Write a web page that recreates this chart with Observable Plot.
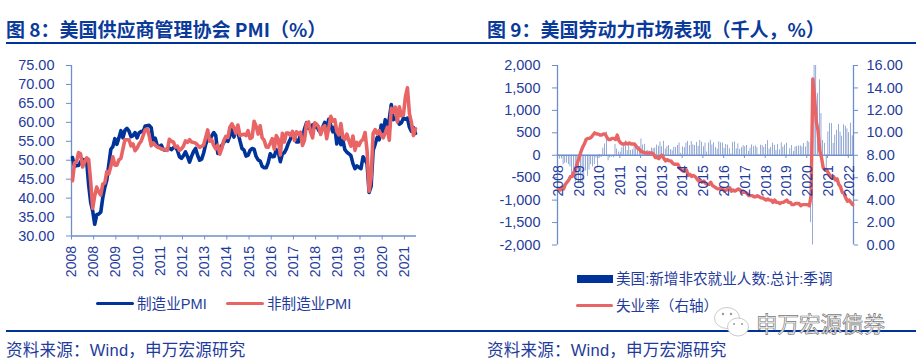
<!DOCTYPE html>
<html><head><meta charset="utf-8">
<script src="https://cdn.jsdelivr.net/npm/d3@7"></script>
<script src="https://cdn.jsdelivr.net/npm/@observablehq/plot@0.6"></script>
<style>
html,body{margin:0;padding:0;background:#fff}
#page{position:relative;width:916px;height:364px;overflow:hidden;font-family:"Liberation Sans","Noto Sans CJK SC",sans-serif;color:#1f3c9c}
#page svg.plot{position:absolute;left:0;top:0;background:transparent;overflow:visible}
.abs{position:absolute;white-space:nowrap}
.title{font-family:"Noto Sans CJK SC",sans-serif;font-weight:700;font-size:19px;color:#0a3a9a;line-height:22px}
.rule{position:absolute;background:#003399;height:2px}
.src{font-size:16.5px;line-height:20px;color:#1f3c9c;font-family:"Liberation Sans","Noto Sans CJK SC",sans-serif;letter-spacing:.25px}
.leg{font-size:14.6px;line-height:18px;color:#1f3c9c}
.sw{position:absolute;border-radius:2px}
[aria-label="y-axis tick"]{stroke:#6d8fc9}
.wm{font-family:"Noto Sans CJK SC",sans-serif;font-size:21.5px;color:#fff;-webkit-text-stroke:.7px #777}
</style></head><body>
<div id="page">
  <div class="abs title" style="left:6px;top:18px">图 8&#xFF1A;美国供应商管理协会 PMI&#xFF08;%&#xFF09;</div>
  <div class="abs title" style="left:487px;top:18px">图 9&#xFF1A;美国劳动力市场表现&#xFF08;千人&#xFF0C;%&#xFF09;</div>
  <div class="rule" style="left:6px;top:42px;width:910px"></div>

  <div class="sw" style="left:96px;top:302px;width:38px;height:3px;background:#003399"></div>
  <div class="abs leg" style="left:137px;top:295px">制造业PMI</div>
  <div class="sw" style="left:226px;top:302px;width:38px;height:3px;background:#e96464"></div>
  <div class="abs leg" style="left:267px;top:295px">非制造业PMI</div>

  <div style="position:absolute;left:577px;top:275px;width:36px;height:8px;background:#003399"></div>
  <div class="abs leg" style="left:616px;top:270px">美国:新增非农就业人数:总计:季调</div>
  <div class="sw" style="left:576px;top:304px;width:37px;height:3px;background:#e96464"></div>
  <div class="abs leg" style="left:616px;top:297px">失业率&#xFF08;右轴&#xFF09;</div>

  <div class="rule" style="left:6px;top:330px;width:910px"></div>
  <div class="abs src" style="left:6px;top:340px">资料来源&#xFF1A;Wind&#xFF0C;申万宏源研究</div>
  <div class="abs src" style="left:487px;top:340px">资料来源&#xFF1A;Wind&#xFF0C;申万宏源研究</div>

  <svg style="position:absolute;left:712px;top:305px" width="40" height="36" viewBox="0 0 40 36">
    <ellipse cx="15" cy="13" rx="12.5" ry="10.5" fill="#fff" stroke="#ccc"/>
    <ellipse cx="26" cy="22" rx="10.5" ry="9" fill="#fff" stroke="#ccc"/>
    <circle cx="11" cy="9" r="1.2" fill="#999"/><circle cx="19" cy="9" r="1.2" fill="#999"/>
    <circle cx="22" cy="19" r="1" fill="#999"/><circle cx="30" cy="19" r="1" fill="#999"/>
  </svg>
  <div class="abs wm" style="left:756px;top:307px">申万宏源债券</div>
</div>
<script>
const months = d3.range(171);
const pmiTickMonths = d3.range(0, 171, 11);
const pmiTickLabels = ["2008","2008","2009","2010","2011","2012","2013","2014","2015","2016","2017","2018","2019","2019","2020","2021"];
const pmiYTicks = [30,35,40,45,50,55,60,65,70,75];
const manufacturing = [
50.7,48.3,48.6,48.6,49.6,50.2,50.0,49.9,43.5,38.9,36.6,33.1,
35.6,35.8,36.3,40.1,42.8,44.8,48.9,52.9,53.6,55.7,54.2,55.9,
57.8,55.9,57.9,58.4,57.7,56.2,56.5,57.3,55.9,57.2,57.6,57.5,
59.0,59.1,59.2,58.6,55.0,55.8,53.8,53.6,54.0,52.8,52.7,53.0,
53.2,52.8,53.3,53.6,52.6,50.9,50.5,51.2,52.2,51.0,49.5,51.0,
52.3,53.1,51.3,50.0,50.3,51.9,54.2,55.6,55.4,56.4,57.3,56.5,
51.8,53.0,53.9,54.7,55.3,55.0,56.4,58.0,56.1,57.9,57.3,55.1,
53.1,52.7,51.1,51.3,52.6,53.1,52.9,51.0,50.1,49.8,48.4,48.0,
48.0,49.4,51.7,50.9,51.0,52.8,52.2,49.6,51.7,52.0,53.0,54.5,
55.6,57.0,56.6,54.8,54.8,56.7,56.0,58.3,59.9,58.4,58.2,59.3,
58.6,59.3,57.9,57.3,58.7,60.0,58.4,60.8,59.2,57.5,58.8,54.3,
56.6,54.1,55.3,52.8,52.1,51.7,51.2,49.1,47.8,48.5,48.1,47.8,
50.9,50.1,49.1,41.5,43.1,52.6,54.2,56.0,55.4,59.3,57.5,60.7,
58.7,60.8,64.7,60.7,61.2,60.6,59.5,59.9,61.1,60.8,61.1,58.7,
57.6,58.6,57.1];
const nonManufacturing = [
44.6,49.3,49.6,52.0,51.7,48.2,49.5,50.6,50.2,44.4,37.3,40.6,
42.9,41.6,40.8,43.7,44.0,47.0,46.4,48.4,50.9,48.7,48.7,50.1,
50.5,53.0,55.4,55.4,55.4,53.8,54.3,52.5,53.2,54.3,55.0,56.5,
58.0,58.3,56.5,53.8,54.6,54.0,53.5,53.3,53.0,52.9,52.8,52.6,
55.5,55.0,54.8,53.5,53.7,52.6,53.0,53.7,55.1,54.7,55.4,54.8,
54.7,54.5,54.0,53.4,53.7,54.0,56.0,58.0,55.0,55.4,53.9,53.0,
54.0,51.6,53.1,55.2,56.3,56.0,58.7,59.6,58.6,57.1,59.3,56.5,
56.7,56.9,56.5,57.8,55.7,56.0,60.3,59.0,56.9,59.1,55.9,55.3,
53.5,53.4,54.5,55.7,52.9,56.5,55.5,51.4,57.1,54.8,57.2,57.2,
56.5,57.6,55.2,57.5,56.9,57.4,53.9,55.3,59.8,60.1,57.4,55.9,
59.9,59.5,58.8,56.8,58.6,59.1,55.7,58.5,61.6,60.3,60.7,57.6,
56.7,59.7,56.1,55.5,56.9,55.1,53.7,56.4,52.6,54.7,53.9,55.0,
55.5,57.3,52.5,41.8,45.4,57.1,58.1,56.9,57.8,56.6,55.9,57.2,
58.7,55.3,63.7,62.7,64.0,60.1,64.1,61.7,61.9,66.7,69.1,62.3,
59.9,56.5,58.3];
const jobsTickMonths = d3.range(0, 171, 12);
const jobsTickLabels = ["2008","2009","2010","2011","2012","2013","2014","2015","2016","2017","2018","2019","2020","2021","2022"];
const jobsYTicks = [-2000,-1500,-1000,-500,0,500,1000,1500,2000];
const rateTicks = [0,2,4,6,8,10,12,14,16];
const payrolls = [
17,-86,-80,-214,-182,-172,-210,-259,-452,-474,-600,-560,
-620,-600,-640,-560,-351,-470,-329,-212,-258,-210,-62,-283,
18,-50,156,251,516,-122,-61,-42,-57,241,137,71,
70,168,212,322,102,217,106,122,221,183,164,196,
360,226,243,96,110,88,160,150,161,225,203,293,
190,311,135,192,218,125,99,178,172,217,274,45,
187,168,272,310,213,306,232,218,286,200,331,292,
190,271,72,275,332,228,277,173,136,298,276,270,
153,237,225,144,29,285,297,142,254,128,167,216,
191,217,88,160,230,191,210,170,18,225,216,175,
239,326,135,175,272,218,108,237,119,277,179,227,
269,1,147,216,85,182,194,207,208,185,261,184,
315,289,-1500,-20679,2725,4846,1380,1680,930,330,264,-306,
520,710,704,263,447,557,689,517,424,677,647,588,
504,714,431];
const unemployment = [
5.0,4.9,5.1,5.0,5.4,5.6,5.8,6.1,6.1,6.5,6.8,7.3,
7.8,8.3,8.7,9.0,9.4,9.5,9.5,9.6,9.8,10.0,9.9,9.9,
9.8,9.8,9.9,9.9,9.6,9.4,9.4,9.5,9.5,9.4,9.8,9.3,
9.1,9.0,9.0,9.1,9.0,9.1,9.0,9.0,9.0,8.8,8.6,8.5,
8.3,8.3,8.2,8.2,8.2,8.2,8.2,8.1,7.8,7.8,7.7,7.9,
8.0,7.7,7.5,7.6,7.5,7.5,7.3,7.2,7.2,7.2,6.9,6.7,
6.6,6.7,6.7,6.2,6.3,6.1,6.2,6.1,5.9,5.7,5.8,5.6,
5.7,5.5,5.4,5.4,5.6,5.3,5.2,5.1,5.0,5.0,5.1,5.0,
4.8,4.9,5.0,5.1,4.8,4.9,4.8,4.9,5.0,4.9,4.7,4.7,
4.7,4.6,4.4,4.4,4.4,4.3,4.3,4.4,4.3,4.2,4.2,4.1,
4.0,4.1,4.0,4.0,3.8,4.0,3.8,3.8,3.7,3.8,3.8,3.9,
4.0,3.8,3.8,3.6,3.6,3.7,3.7,3.7,3.5,3.6,3.6,3.6,
3.6,3.5,4.4,14.8,13.2,11.0,10.2,8.4,7.8,6.9,6.7,6.7,
6.4,6.2,6.0,6.1,5.8,5.9,5.4,5.2,4.7,4.6,4.2,3.9,
4.0,3.8,3.6];

const NAVY="#003399", RED="#e96464", AXIS="#6d8fc9", TEXT="#1f3c9c";
const plotStyle={fontFamily:'"Liberation Sans","Noto Sans CJK SC",sans-serif',fontSize:"14.5px",color:TEXT,background:"transparent",overflow:"visible"};
const commaFmt = v => Math.round(v).toLocaleString("en-US");
const rateToJobs = u => (u-8)*250;

const left = Plot.plot({
  className:"plot", width:460, height:290, marginLeft:71, marginRight:44, marginTop:65, marginBottom:54.5,
  style:plotStyle,
  x:{domain:[-0.5,170.5], axis:null},
  y:{domain:[30,75], axis:null},
  marks:[
    Plot.axisX({ticks:pmiTickMonths.map(i=>i-0.5), tickFormat:(d,i)=>pmiTickLabels[i], tickRotate:-90, tickSize:4, tickPadding:6, stroke:AXIS, color:TEXT, fontSize:14, label:null}),
    Plot.axisY({ticks:pmiYTicks, tickFormat:d=>d.toFixed(2), tickSize:5, tickPadding:12, color:TEXT, label:null}),
    Plot.ruleX([-0.5],{stroke:AXIS,strokeWidth:1.3}),
    Plot.ruleY([30],{stroke:AXIS,strokeWidth:1.3}),
    Plot.line(months,{x:i=>i,y:i=>manufacturing[i],stroke:NAVY,strokeWidth:3.6,strokeLinejoin:"round"}),
    Plot.line(months,{x:i=>i,y:i=>nonManufacturing[i],stroke:RED,strokeWidth:3.6,strokeLinejoin:"round"})
  ]
});
const right = Plot.plot({
  className:"plot", width:916, height:290, marginLeft:557, marginRight:63, marginTop:65, marginBottom:45.5,
  style:plotStyle,
  x:{domain:[-0.5,170.5], axis:null},
  y:{domain:[-2000,2000], axis:null},
  marks:[
    Plot.axisY({ticks:jobsYTicks, tickFormat:commaFmt, tickSize:5, tickPadding:12, color:TEXT, label:null}),
    Plot.axisY({anchor:"right", ticks:rateTicks.map(rateToJobs), tickFormat:v=>(v/250+8).toFixed(2), tickSize:4, tickPadding:9, color:TEXT, label:null}),
    Plot.ruleX([-0.5,170.5],{stroke:AXIS,strokeWidth:1.3}),
    Plot.rectY(months,{x1:i=>i-0.16,x2:i=>i+0.16,y1:0,y2:i=>payrolls[i],fill:NAVY,fillOpacity:.75,clip:true}),
    Plot.ruleY([0],{stroke:AXIS,strokeWidth:1.3}),
    Plot.ruleX(jobsTickMonths,{x:i=>i-0.5,y1:0,y2:-70,stroke:AXIS}),
    Plot.line(months,{x:i=>i,y:i=>rateToJobs(unemployment[i]),stroke:RED,strokeWidth:3.4,strokeLinejoin:"round"}),
    Plot.text(jobsTickMonths,{x:i=>i,y:0,text:(i,k)=>jobsTickLabels[k],rotate:-90,textAnchor:"end",dy:10,fill:TEXT,fontSize:14})
  ]
});
document.getElementById("page").append(left,right);
</script>
</body></html>
